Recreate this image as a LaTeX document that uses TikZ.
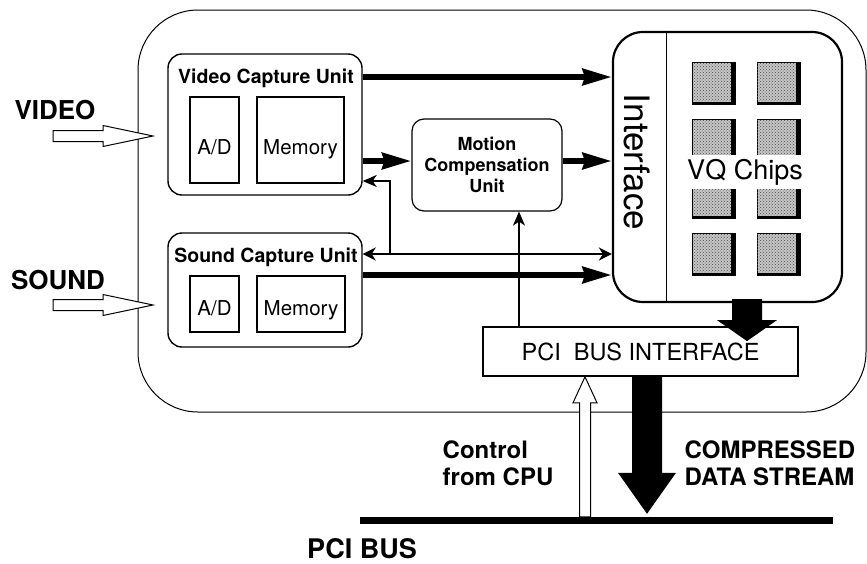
\documentclass[tikz,border=0pt]{standalone}
\usepackage{fontspec}
\setmainfont{TeX Gyre Heros}
\usetikzlibrary{arrows.meta,calc,patterns}

\begin{document}
\begin{tikzpicture}[x=1pt,y=-1pt,
  unitbox/.style={draw, line width=1.4pt, rounded corners=14pt, inner sep=0pt},
  subbox/.style={draw, line width=1.2pt, inner sep=0pt, text depth=1pt,
    font=\fontsize{20.5}{23}\selectfont},
  lowtext/.style={text height=#1},
  unittitle/.style={inner sep=0pt, font=\fontsize{19.5}{22}\selectfont\bfseries},
  biglabel/.style={inner sep=0pt, font=\fontsize{26}{29}\selectfont\bfseries},
  buslabel/.style={inner sep=0pt, align=left, font=\fontsize{24}{27}\selectfont\bfseries},
  chip/.style={draw, line width=0.9pt, minimum width=43pt, minimum height=42pt,
    inner sep=0pt, fill=gray!45,
    postaction={pattern=crosshatch dots, pattern color=black!70}},
  chipside/.style={fill=black},
  thickarrow/.style={line width=6pt, -{Stealth[length=29pt,width=16pt,inset=2pt]}},
  thinarrow/.style={line width=1.6pt, -{Stealth[length=14pt,width=12pt,inset=4pt]}},
  twoway/.style={line width=2pt, {Stealth[length=13pt,width=13pt,inset=4pt]}-{Stealth[length=13pt,width=13pt,inset=4pt]}},
]
\useasboundingbox (0,0) rectangle (867,563);

% board outline
\draw[line width=1pt, rounded corners=60pt] (138,10) rectangle (866,412);

% capture units
\node[unitbox, minimum width=194pt, minimum height=141pt] (vcu) at (265,124.5) {};
\node[unittitle] (vtitle) at (266,78) {Video Capture Unit};
\node[subbox, lowtext=29.8pt, minimum width=49pt, minimum height=86pt] (vad) at (214.5,140) {A/D};
\node[subbox, lowtext=29.8pt, minimum width=87pt, minimum height=86pt] (vmem) at (300.5,140) {Memory};

\node[unitbox, minimum width=194pt, minimum height=114pt] (scu) at (265,290) {};
\node[unittitle] (stitle) at (266,257) {Sound Capture Unit};
\node[subbox, lowtext=24.8pt, minimum width=49pt, minimum height=56pt] (sad) at (214.5,304) {A/D};
\node[subbox, lowtext=24.8pt, minimum width=88pt, minimum height=56pt] (smem) at (301,304) {Memory};

% motion compensation
\node[draw, line width=1.2pt, rounded corners=12pt, minimum width=150pt,
  minimum height=92pt, align=center, inner sep=0pt,
  font=\fontsize{18}{21}\selectfont\bfseries] (mcu) at (487,165)
  {Motion\\Compensation\\Unit};

% VQ board with interface strip
\node[draw, line width=2.2pt, rounded corners=30pt, minimum width=229pt,
  minimum height=270pt, inner sep=0pt] (vq) at (727.5,167) {};
\coordinate (divx) at (666,0);
\draw[line width=1pt] (vq.north -| divx) -- (vq.south -| divx);
\node[rotate=-90, inner sep=0pt, font=\fontsize{35}{38}\selectfont] (iface) at (637,162) {Interface};

% chips, each with a dark side face on the right and a dark lower edge
\foreach \r/\yy in {1/83,2/140,3/197,4/254}{
  \foreach \c/\xx in {a/713.5,b/778.5}{
    \node[chip] (chip\r\c) at (\xx,\yy) {};
    \fill[chipside] ([xshift=-4.5pt]chip\r\c.north east) rectangle (chip\r\c.south east);
    \fill[chipside] ([yshift=2pt]chip\r\c.south west) rectangle (chip\r\c.south east);
  }
}
\node[fill=white, inner sep=4pt, font=\fontsize{27}{30}\selectfont] (vqtext) at (745,172) {VQ Chips};

% PCI interface and bus
\node[draw, line width=1.6pt, minimum width=315pt, minimum height=49pt, inner sep=0pt,
  font=\fontsize{23.5}{26}\selectfont] (pci) at (640.5,351.5) {PCI\ \ BUS INTERFACE};
\coordinate (busL) at (360,520);
\coordinate (busR) at (833,520);
\draw[line width=7pt] (busL) -- (busR);

% external labels
\node[biglabel] (video) at (55,110) {VIDEO};
\node[biglabel] (sound) at (58,280) {SOUND};
\node[inner sep=0pt, anchor=base, text depth=0pt,
  font=\fontsize{27}{30}\selectfont\bfseries] (pcibus) at (362,558) {PCI BUS};
\node[buslabel] (ctrl) at (498,463) {Control\\from CPU};
\node[buslabel] (comp) at (770,463) {COMPRESSED\\DATA STREAM};

% hollow input arrows
\coordinate (vin) at (153,136);
\coordinate (sin) at (153,305);
\foreach \t in {vin,sin}{
  \filldraw[fill=white, line width=1pt]
    ($(\t)+(-100,-5.5)$) -- ($(\t)+(-50,-5.5)$) -- ($(\t)+(-50,-10.5)$) -- (\t)
    -- ($(\t)+(-50,10.5)$) -- ($(\t)+(-50,5.5)$) -- ($(\t)+(-100,5.5)$) -- cycle;
}

% data paths
\coordinate (yv) at (0,77);
\coordinate (ym) at (0,161);
\coordinate (yr) at (0,181);
\coordinate (ys) at (0,254);
\coordinate (yt) at (0,275);
\coordinate (jx) at (390,254);
\coordinate (cx) at (519,0);

\draw[thickarrow] (vcu.east |- yv) -- (vq.west |- yv);
\draw[thickarrow] (vcu.east |- ym) -- (mcu.west |- ym);
\draw[thickarrow] (mcu.east |- ym) -- (vq.west |- ym);
\draw[twoway] (scu.east |- ys) -- (vq.west |- ys);
\draw[thinarrow] (jx) |- (vcu.east |- yr);
\draw[thickarrow] (scu.east |- yt) -- (vq.west |- yt);
\draw[thinarrow] (pci.north -| cx) -- (mcu.south -| cx);

% VQ output into the PCI interface
\coordinate (qx) at (747,0);
\coordinate (qtop) at (vq.south -| qx);
\fill ($(qtop)+(-15,-4)$) -- ($(qtop)+(-15,17)$) -- ($(qtop)+(-30,17)$) -- ($(qtop)+(0,38)$)
  -- ($(qtop)+(30,17)$) -- ($(qtop)+(15,17)$) -- ($(qtop)+(15,-4)$) -- cycle;

% compressed stream down to the bus
\coordinate (dx) at (647,0);
\coordinate (dtop) at (pci.south -| dx);
\fill ($(dtop)+(-15,0)$) -- ($(dtop)+(-15,96)$) -- ($(dtop)+(-29,96)$) -- ($(dtop)+(0,137)$)
  -- ($(dtop)+(29,96)$) -- ($(dtop)+(15,96)$) -- ($(dtop)+(15,0)$) -- cycle;

% control from the bus
\coordinate (kx) at (585,0);
\coordinate (ctip) at (pci.south -| kx);
\filldraw[fill=white, line width=1pt]
  ($(ctip)+(-5.5,140)$) -- ($(ctip)+(-5.5,26)$) -- ($(ctip)+(-12,26)$) -- (ctip)
  -- ($(ctip)+(12,26)$) -- ($(ctip)+(5.5,26)$) -- ($(ctip)+(5.5,140)$) -- cycle;
\end{tikzpicture}
\end{document}
